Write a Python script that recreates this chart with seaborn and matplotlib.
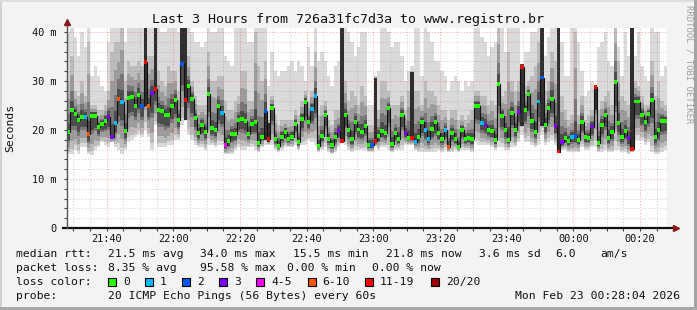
import numpy as np
import pandas as pd
import matplotlib
matplotlib.use("Agg")
import matplotlib.pyplot as plt
from matplotlib.patches import Rectangle
import seaborn as sns

# ---------------- data (one value per 60 s step, 21:28:04 -> 00:28:04) ----------------
median_ms = [
    19.5, 24.0, 23.3, 22.0, 22.7, 22.7, 19.1, 22.9, 22.8, 20.6, 21.3, 21.9, 22.7, 18.6, 21.4,
    26.4, 25.7, 19.7, 26.6, 26.8, 24.9, 27.2, 24.9, 33.9, 24.9, 27.6, 28.4, 24.0, 23.8, 23.0,
    23.0, 24.9, 26.1, 22.0, 33.5, 26.1, 29.0, 26.4, 22.4, 19.3, 21.0, 19.5, 27.3, 20.4, 20.0,
    24.8, 23.4, 16.9, 17.8, 19.2, 19.1, 22.0, 22.3, 21.8, 19.2, 21.2, 21.6, 17.3, 18.6, 23.9,
    18.1, 24.4, 18.2, 16.8, 18.6, 19.5, 18.2, 18.6, 21.3, 17.5, 22.2, 25.7, 21.6, 24.3, 26.9,
    16.8, 18.7, 23.1, 18.2, 17.0, 18.5, 19.7, 17.8, 23.0, 20.0, 18.1, 21.6, 20.1, 19.5, 20.9,
    16.9, 16.9, 17.8, 18.8, 19.8, 19.3, 24.4, 17.1, 19.3, 18.2, 23.1, 19.3, 18.4, 18.4, 17.6,
    18.6, 21.6, 19.9, 18.2, 20.2, 21.6, 19.4, 18.2, 19.9, 16.5, 19.4, 18.2, 16.6, 19.9, 18.2,
    18.4, 18.1, 24.8, 24.8, 21.5, 21.1, 20.0, 19.8, 17.9, 29.3, 22.9, 20.0, 18.0, 23.5, 19.9,
    23.7, 32.9, 24.1, 27.3, 21.8, 19.6, 25.8, 30.7, 21.0, 24.4, 26.4, 20.8, 15.6, 17.5, 18.4,
    17.8, 18.5, 18.8, 18.0, 21.6, 18.5, 18.3, 20.7, 28.7, 17.4, 21.1, 23.1, 18.4, 19.6, 29.8,
    21.4, 18.6, 19.8, 18.3, 16.2, 25.8, 25.8, 23.0, 21.6, 23.3, 26.1, 18.6, 19.9, 21.8, 21.8,
]
# loss class: 0 -> "0", 1 -> "1", 2 -> "2", 3 -> "3", 4 -> "4-5", 5 -> "6-10", 6 -> "11-19", 7 -> "20/20"
loss_class = [
    0, 0, 0, 0, 0, 1, 5, 0, 0, 0, 0, 0, 3, 3, 1, 5, 1, 0, 0, 0, 0, 0, 2, 6, 5, 3, 6, 0, 0, 0,
    0, 0, 0, 0, 2, 6, 0, 0, 0, 0, 0, 0, 0, 0, 0, 0, 1, 4, 0, 0, 0, 0, 0, 0, 0, 0, 0, 0, 0, 2,
    6, 0, 0, 0, 0, 0, 0, 0, 0, 0, 0, 0, 0, 1, 1, 0, 0, 0, 0, 0, 0, 3, 6, 0, 0, 0, 0, 0, 0, 0,
    0, 2, 6, 0, 0, 0, 0, 0, 0, 0, 0, 3, 0, 6, 1, 0, 0, 1, 1, 0, 0, 0, 0, 1, 5, 0, 0, 0, 0, 0,
    0, 0, 0, 0, 1, 3, 0, 0, 0, 0, 0, 0, 0, 0, 0, 3, 6, 0, 0, 0, 0, 1, 2, 0, 0, 0, 3, 6, 3, 0,
    0, 1, 2, 0, 0, 0, 0, 3, 6, 0, 0, 0, 0, 0, 0, 0, 0, 0, 3, 6, 0, 0, 0, 0, 0, 0, 0, 0, 0, 0,
]
# smoke: highest ping, top of the denser smoke, lowest ping (ms)
smoke_hi = [
    40, 42, 39, 35, 40, 37, 42, 31, 33, 31, 29, 28, 38, 42, 42, 42, 42, 38, 42, 41, 41, 41, 41, 42, 42, 42, 42, 41, 40, 40,
    42, 42, 41, 40, 42, 42, 42, 40, 38, 38, 37, 38, 41, 40, 40, 42, 41, 35, 34, 33, 42, 41, 42, 41, 38, 38, 42, 41, 42, 42,
    29, 36, 32, 31, 32, 32, 33, 34, 32, 34, 33, 30, 37, 33, 42, 34, 36, 34, 31, 29, 33, 34, 42, 41, 40, 38, 35, 37, 40, 40,
    25, 25, 31, 32, 42, 42, 40, 37, 38, 38, 35, 30, 32, 33, 42, 42, 31, 42, 40, 38, 34, 34, 32, 31, 28, 30, 31, 30, 28, 30,
    29, 30, 42, 42, 39, 38, 35, 37, 38, 42, 42, 36, 41, 41, 41, 41, 33, 36, 36, 40, 40, 42, 42, 35, 39, 42, 42, 42, 38, 31,
    31, 42, 42, 38, 32, 27, 28, 30, 29, 37, 38, 40, 34, 33, 42, 37, 31, 40, 35, 42, 35, 40, 33, 31, 30, 42, 40, 40, 31, 33,
]
smoke_up = [
    30, 35, 28, 27, 30, 27, 38, 25, 25, 24, 24, 25, 28, 36, 38, 38, 42, 30, 34, 33, 33, 34, 33, 42, 35, 35, 42, 32, 30, 29,
    33, 32, 32, 28, 42, 42, 35, 30, 27, 25, 25, 25, 36, 30, 30, 31, 31, 26, 24, 24, 26, 27, 32, 32, 26, 26, 40, 33, 30, 34,
    22, 27, 23, 21, 22, 22, 22, 22, 24, 23, 26, 28, 26, 28, 36, 23, 25, 26, 22, 21, 24, 24, 42, 30, 26, 28, 27, 25, 29, 27,
    21, 21, 31, 24, 30, 30, 28, 25, 25, 25, 27, 24, 28, 32, 28, 28, 25, 30, 28, 28, 27, 25, 24, 24, 22, 24, 24, 22, 23, 22,
    23, 24, 28, 28, 27, 27, 25, 26, 25, 42, 27, 28, 36, 30, 28, 30, 33, 29, 30, 31, 33, 38, 42, 28, 30, 36, 34, 42, 27, 24,
    22, 23, 40, 23, 27, 22, 23, 24, 29, 24, 26, 27, 28, 25, 42, 34, 27, 26, 25, 42, 30, 29, 27, 25, 25, 34, 27, 30, 26, 25,
]
smoke_lo = [
    15, 15, 16, 15, 16.5, 16.5, 15, 14.8, 16, 16.5, 17.5, 17, 16.5, 17.5, 16.5, 16, 15, 16, 17.5, 18, 18.5, 19, 18.5, 20, 18.5, 16, 21, 16.5, 16.5, 16.5,
    17, 17, 18, 18, 21, 22, 19, 18, 17, 16.5, 16.5, 16, 17, 17, 16.5, 17, 17, 15, 15, 15, 16, 16.5, 16, 16, 16.5, 16.5, 16, 15.5, 16.5, 17,
    17, 17, 16, 15.5, 16, 16.5, 16.5, 16.5, 17, 16, 17, 17, 18, 17.5, 17, 15.5, 16, 16.5, 15.5, 15, 15.5, 16.5, 17.5, 17, 16, 15.5, 16, 16, 16, 16,
    15.5, 15.5, 16.5, 16, 16.5, 16.5, 16, 15.5, 16, 16, 16, 17, 17, 17, 16, 15.5, 15.5, 15.5, 15.5, 15.5, 15.5, 16, 15.5, 16, 15.5, 15.5, 16, 15.5, 16, 16,
    16, 15.5, 17.5, 17, 17, 17, 17, 16.5, 16, 16.5, 16.5, 16, 16, 16.5, 16.5, 17.5, 19, 17.5, 17.5, 17, 16.5, 17, 19, 17, 17.5, 18, 17, 15.5, 16, 16,
    15.5, 15.5, 15.5, 15.5, 16.5, 16, 16, 16.5, 16.5, 15.5, 15.5, 16, 15.5, 15.5, 16, 16, 15.5, 15.5, 15, 15.5, 18, 18, 18, 17, 17.5, 15.5, 15, 15, 15.5, 16,
]
# steps where only a few pings came back: dark smoke column (ms range)
dark_steps = [23, 26, 34, 35, 59, 60, 82, 92, 103, 136, 142, 147, 158, 169]
dark_lo = [24.9, 28.4, 33.5, 22.0, 18.0, 17.5, 17.8, 17.8, 18.4, 20.8, 20.8, 15.6, 24.0, 16.2]
dark_hi = [42.0, 42.0, 42.0, 42.0, 24.0, 21.5, 42.0, 30.6, 31.9, 33.1, 42.0, 42.0, 28.9, 42.0]

loss_labels = ["0", "1", "2", "3", "4-5", "6-10", "11-19", "20/20"]
loss_colors = ["#26ff00", "#00b8ff", "#0059ff", "#7e00ff", "#ff00ff", "#ff5500", "#ff0000", "#a10000"]

time_labels = ["21:40", "22:00", "22:20", "22:40", "23:00", "23:20", "23:40", "00:00", "00:20"]
first_label_pos = 11.933      # minutes after 21:28:04 where 21:40 falls
y_ticks = [0, 10, 20, 30, 40]
y_labels = ["0", "10 m", "20 m", "30 m", "40 m"]

# ---------------- figure ----------------
sns.set_theme(style="white")
plt.rcParams["font.family"] = ["DejaVu Sans Mono", "DejaVu Sans"]

W, H = 697, 310
BG = "#f3f3f3"
fig = plt.figure(figsize=(W / 100, H / 100), dpi=100, facecolor=BG)


def fx(px):
    return px / W


def fy(py):
    return 1 - py / H


YMAX = 40.8
ax = fig.add_axes([fx(67), fy(228), fx(667) - fx(67), fy(28) - fy(228)])
ax.set_facecolor("white")
ax.set_xlim(0, 180)
ax.set_ylim(0, YMAX)
for s in ax.spines.values():
    s.set_visible(False)

df = pd.DataFrame({
    "step": np.arange(len(median_ms)),
    "med": median_ms,
    "loss": loss_class,
    "hi": smoke_hi,
    "up": smoke_up,
    "lo": smoke_lo,
})
x = df["step"].values
med = df["med"].values
lo = df["lo"].values
hi = df["hi"].values
up = df["up"].values

# smoke bands, outer (light) to inner (dark)
bands = [
    (lo, hi, "#dadada"),
    (lo + 0.12 * (med - lo), up, "#bcbcbc"),
    (lo + 0.3 * (med - lo), med + 0.65 * (up - med), "#9c9c9c"),
    (lo + 0.55 * (med - lo), med + 0.35 * (up - med), "#777777"),
    (med - 0.35 * (med - lo), med + 0.12 * (up - med) + 0.5, "#4c4c4c"),
]
for b, t, c in bands:
    ax.bar(x, t - b, bottom=b, width=1.0, align="edge", color=c, linewidth=0, zorder=1)

dl = np.array(dark_lo)
dh = np.array(dark_hi)
ax.bar(dark_steps, dh - dl, bottom=dl, width=1.0, align="edge", color="#2e2e2e", linewidth=0, zorder=1.5)

# grid (drawn over the smoke, like rrdtool)
minor_x = np.arange(first_label_pos - 10, 180, 5)
major_x = first_label_pos + 20 * np.arange(len(time_labels))
for xv in minor_x:
    if xv > 0 and not np.any(np.isclose(xv, major_x)):
        ax.axvline(xv, color=(0.45, 0.45, 0.45, 0.35), lw=0.7, ls=(0, (1, 2)), zorder=3)
for yv in np.arange(2, 41, 2):
    if yv % 10 != 0:
        ax.axhline(yv, color=(0.45, 0.45, 0.45, 0.35), lw=0.7, ls=(0, (1, 2)), zorder=3)
for xv in major_x:
    ax.axvline(xv, color=(1.0, 0.2, 0.2, 0.45), lw=0.7, ls=(0, (1, 2)), zorder=3)
for yv in y_ticks[1:]:
    ax.axhline(yv, color=(1.0, 0.2, 0.2, 0.45), lw=0.7, ls=(0, (1, 2)), zorder=3)

# median line (black step connectors) + loss-coloured markers
line_df = pd.DataFrame({"t": np.append(x, 180), "m": np.append(med, med[-1])})
sns.lineplot(data=line_df, x="t", y="m", drawstyle="steps-post", color="#111111",
             lw=0.8, estimator=None, ax=ax, zorder=4)
mcol = [loss_colors[k] for k in df["loss"]]
ax.bar(x, 0.8, bottom=med - 0.4, width=1.0, align="edge", color=mcol, linewidth=0, zorder=5)

# axes lines and arrows
ax.plot([-1.5, 182.2], [0, 0], color="#111111", lw=1.6, clip_on=False, zorder=6, solid_capstyle="butt")
ax.plot([0, 0], [0, 41.6], color="#555555", lw=1.0, clip_on=False, zorder=6)
ax.plot([182.6], [0], marker=">", color="#8b1a1a", ms=4.5, clip_on=False, zorder=7)
ax.plot([0], [42.1], marker="^", color="#8b1a1a", ms=4.5, clip_on=False, zorder=7)

ax.set_xticks(major_x)
ax.set_xticklabels(time_labels)
ax.set_xticks(minor_x[minor_x > 0], minor=True)
ax.set_yticks(y_ticks)
ax.set_yticklabels(y_labels)
ax.set_yticks(np.arange(2, 41, 2), minor=True)
ax.tick_params(axis="x", which="both", length=2, width=0.8, color="#444444", pad=2.5,
               labelsize=7.4, labelcolor="#111111", bottom=True)
ax.tick_params(axis="y", which="both", length=2, width=0.8, color="#444444", pad=5.5,
               labelsize=7.4, labelcolor="#111111", left=True)
ax.set_xlabel("")
ax.set_ylabel("")

# ---------------- texts ----------------
fs = 8.2
fig.text(fx(348), fy(19), "Last 3 Hours from 726a31fc7d3a to www.registro.br",
         ha="center", va="center", fontsize=9.6, color="#111111")
fig.text(fx(10.5), fy(128), "Seconds", rotation=90, ha="center", va="center",
         fontsize=fs, color="#111111")
fig.text(fx(688.5), fy(5), "RRDTOOL / TOBI OETIKER", rotation=270, ha="center", va="top",
         fontsize=6.5, color="#a0a0a0")

row_y = [254, 268, 282, 296]
line1 = [(16, "median rtt:"), (107.6, "21.5 ms avg"), (200, "34.0 ms max"), (293, "15.5 ms min"),
         (386, "21.8 ms now"), (479, "3.6 ms sd"), (555.6, "6.0"), (600, "am/s")]
line2 = [(16, "packet loss:"), (107.6, "8.35 % avg"), (200, "95.58 % max"), (286.7, "0.00 % min"),
         (372.4, "0.00 % now")]
for px, s in line1:
    fig.text(fx(px), fy(row_y[0]), s, ha="left", va="center", fontsize=fs, color="#111111")
for px, s in line2:
    fig.text(fx(px), fy(row_y[1]), s, ha="left", va="center", fontsize=fs, color="#111111")

fig.text(fx(16), fy(row_y[2]), "loss color:", ha="left", va="center", fontsize=fs, color="#111111")
box_x = [108, 145, 182, 219, 256, 307.6, 365, 431]
for bx, lab, col in zip(box_x, loss_labels, loss_colors):
    fig.patches.append(Rectangle((fx(bx), fy(row_y[2] + 4)), fx(8.4), 8 / H,
                                 transform=fig.transFigure, facecolor=col,
                                 edgecolor="black", linewidth=0.8))
    fig.text(fx(bx + 15), fy(row_y[2]), lab, ha="left", va="center", fontsize=fs, color="#111111")

fig.text(fx(16), fy(row_y[3]), "probe:", ha="left", va="center", fontsize=fs, color="#111111")
fig.text(fx(107.6), fy(row_y[3]), "20 ICMP Echo Pings (56 Bytes) every 60s", ha="left",
         va="center", fontsize=fs, color="#111111")
fig.text(fx(680), fy(row_y[3]), "Mon Feb 23 00:28:04 2026", ha="right", va="center",
         fontsize=fs, color="#111111")

# 3-D style frame
fig.patches.append(Rectangle((0, 0), fx(2), 1, transform=fig.transFigure, color="#d2d2d2", lw=0))
fig.patches.append(Rectangle((0, fy(2)), 1, 2 / H, transform=fig.transFigure, color="#dedede", lw=0))
fig.patches.append(Rectangle((fx(694), 0), fx(3), 1, transform=fig.transFigure, color="#a3a3a3", lw=0))
fig.patches.append(Rectangle((0, 0), 1, 3 / H, transform=fig.transFigure, color="#a8a8a8", lw=0))

fig.savefig("out.png", dpi=100, facecolor=BG)
